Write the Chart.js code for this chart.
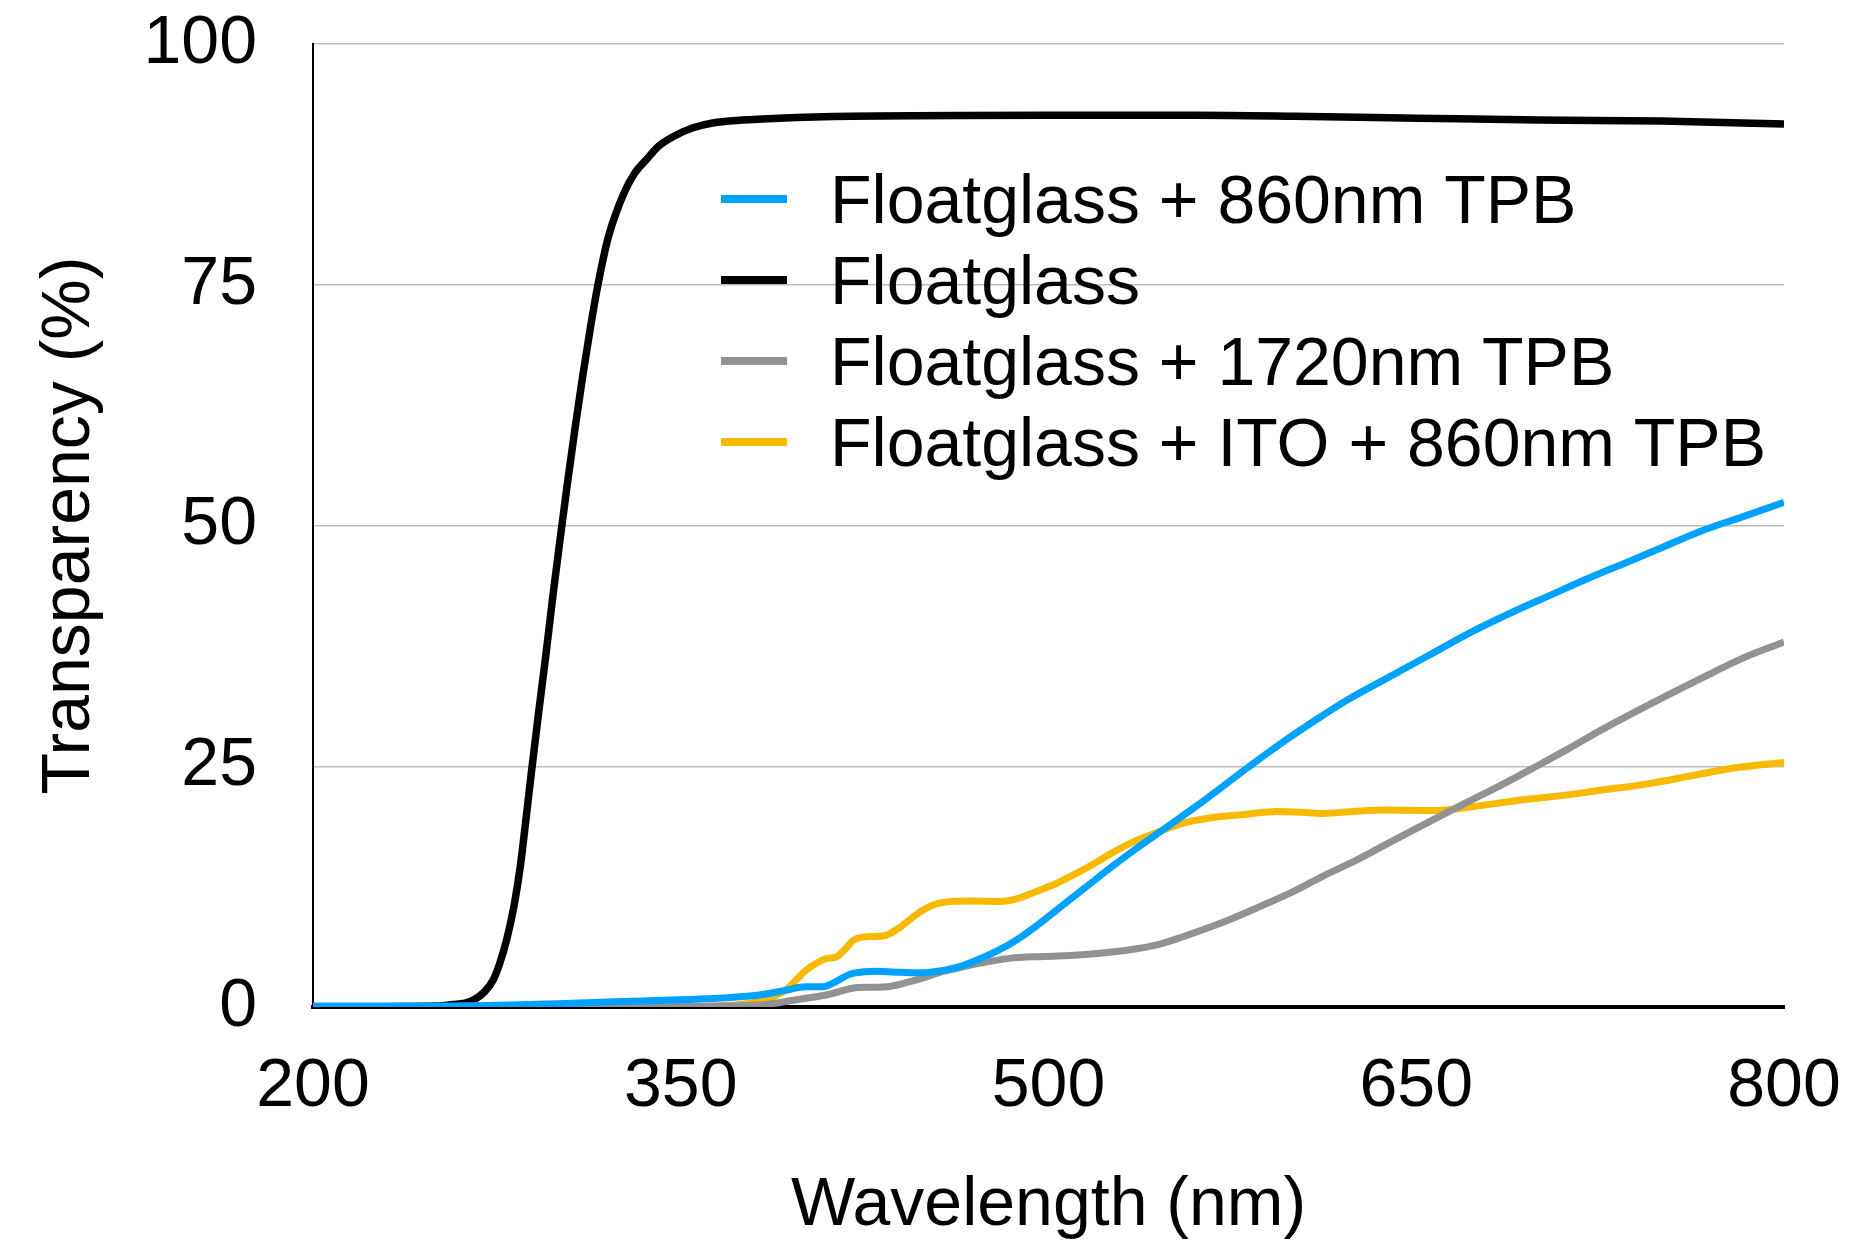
<!DOCTYPE html>
<html>
<head>
<meta charset="utf-8">
<title>Transparency vs Wavelength</title>
<script src="https://cdn.jsdelivr.net/npm/chart.js@4/dist/chart.umd.min.js"></script>
<style>
    html, body { margin: 0; padding: 0; background: #fff; }
    canvas { display: block; }
</style>
</head>
<body>
<canvas id="transChart" width="1854" height="1244"></canvas>
<script>
// Floatglass + 860nm TPB
const tpb860Nm = [200, 250, 280, 300, 330, 360, 382, 392, 401, 408, 413, 419, 425, 430, 440, 448, 458, 465, 471, 478, 486, 495, 505, 515, 525, 535, 545, 560, 582, 595, 609, 622, 637, 655, 673, 690, 705, 720, 738, 752, 766, 783, 800];
const tpb860T  = [0.1, 0.1, 0.2, 0.35, 0.6, 0.85, 1.25, 1.7, 2.1, 2.1, 2.6, 3.4, 3.65, 3.7, 3.6, 3.55, 3.85, 4.3, 4.9, 5.7, 6.8, 8.4, 10.4, 12.4, 14.4, 16.3, 18.1, 20.8, 25.0, 27.4, 29.8, 31.9, 34.0, 36.5, 39.0, 41.1, 42.8, 44.5, 46.4, 47.9, 49.4, 50.9, 52.4];

// Floatglass (bare)
const floatNm = [200, 250, 257, 262, 266, 270, 273.5, 276, 279, 282, 284.5, 287, 289, 292, 295, 298, 301, 304, 307, 310, 313, 316, 320, 323, 327, 331, 336, 341, 347, 355, 363, 375, 390, 420, 500, 560, 600, 650, 700, 750, 800];
const floatT  = [0, 0.1, 0.25, 0.4, 0.8, 1.6, 2.8, 4.4, 7.0, 10.5, 14.5, 19.8, 24.2, 30.5, 36.6, 43, 49, 54.8, 60.3, 65.5, 70.3, 74.7, 79.5, 82.0, 84.6, 86.5, 88.0, 89.4, 90.4, 91.3, 91.8, 92.1, 92.3, 92.5, 92.6, 92.6, 92.5, 92.3, 92.1, 92.0, 91.7];

// Floatglass + 1720nm TPB
const tpb1720Nm = [200, 300, 350, 382, 396, 411, 420, 427, 434, 443, 450, 457, 464, 471, 484, 498, 512, 532, 545, 556, 566, 576, 586, 600, 612, 626, 640, 655, 671, 685, 699, 712, 725, 745, 766, 783, 800];
const tpb1720T  = [0, 0, 0.05, 0.2, 0.7, 1.35, 1.95, 2.05, 2.1, 2.6, 3.1, 3.7, 4.1, 4.5, 5.05, 5.25, 5.4, 5.9, 6.5, 7.4, 8.3, 9.3, 10.4, 12.0, 13.6, 15.3, 17.2, 19.2, 21.3, 23.1, 25.0, 26.8, 28.7, 31.4, 34.1, 36.2, 37.9];

// Floatglass + ITO + 860nm TPB
const itoNm = [200, 300, 350, 375, 385, 393, 397, 401, 405, 409.5, 413.5, 417, 420.5, 426, 432.5, 439, 445, 450, 455, 460, 470, 480, 488, 495, 503, 510, 518, 526, 535, 545, 555, 565, 580, 593, 605, 612, 624, 637, 657, 673, 690, 711, 725, 745, 762, 779, 800];
const itoT  = [0, 0, 0.05, 0.3, 0.8, 1.8, 2.8, 3.8, 4.5, 5.05, 5.2, 6.0, 6.95, 7.3, 7.37, 8.2, 9.4, 10.25, 10.75, 10.95, 11.0, 10.95, 11.3, 12.0, 12.8, 13.7, 14.8, 16.0, 17.2, 18.2, 19.1, 19.6, 20.0, 20.3, 20.2, 20.1, 20.3, 20.45, 20.4, 20.8, 21.4, 22.0, 22.5, 23.2, 24.0, 24.8, 25.4];

const seriesLabels = ['Floatglass + 860nm TPB', 'Floatglass', 'Floatglass + 1720nm TPB', 'Floatglass + ITO + 860nm TPB'];
const seriesColors = ['#00a2ff', '#000000', '#929292', '#f8ba00'];

const xTicks = [200, 350, 500, 650, 800];
const yTicks = [0, 25, 50, 75, 100];

const fontFamily = "'Liberation Sans', Arial, Helvetica, sans-serif";

function toPoints(xs, ys) {
    return xs.map((x, i) => ({ x: x, y: ys[i] }));
}

function makeLine(idx, xs, ys, width) {
    return {
        label: seriesLabels[idx],
        data: toPoints(xs, ys),
        borderColor: seriesColors[idx],
        backgroundColor: seriesColors[idx],
        borderWidth: width,
        borderJoinStyle: 'round',
        pointRadius: 0,
        cubicInterpolationMode: 'monotone',
        fill: false
    };
}

// Legend drawn inside the plot area
const insideLegend = {
    id: 'insideLegend',
    afterDatasetsDraw(chart) {
        const ctx = chart.ctx;
        const area = chart.chartArea;
        const x0 = area.left + 408;
        const y0 = area.top + 155;
        const rowGap = 81;
        ctx.save();
        ctx.font = '68px ' + fontFamily;
        ctx.textBaseline = 'alphabetic';
        ctx.textAlign = 'left';
        chart.data.datasets.forEach((ds, i) => {
            const cy = y0 + i * rowGap;
            ctx.fillStyle = ds.borderColor;
            ctx.fillRect(x0, cy - 4, 66, 8);
            ctx.fillStyle = '#000';
            ctx.fillText(ds.label, x0 + 109, cy + 24);
        });
        ctx.restore();
    }
};

const chart = new Chart(document.getElementById('transChart'), {
    type: 'line',
    data: {
        datasets: [
            makeLine(0, tpb860Nm, tpb860T, 7),
            makeLine(1, floatNm, floatT, 7.5),
            makeLine(2, tpb1720Nm, tpb1720T, 7),
            makeLine(3, itoNm, itoT, 7)
        ]
    },
    options: {
        responsive: false,
        animation: false,
        layout: {
            padding: 0
        },
        plugins: {
            legend: { display: false },
            tooltip: { enabled: false }
        },
        scales: {
            x: {
                type: 'linear',
                min: 200,
                max: 800,
                afterBuildTicks: axis => { axis.ticks = xTicks.map(v => ({ value: v })); },
                afterFit: axis => {
                    axis.height = 237;
                    axis.paddingLeft = 0;
                    axis.paddingRight = 70;
                },
                ticks: {
                    color: '#000',
                    padding: 39,
                    font: { family: fontFamily, size: 68 },
                    maxRotation: 0
                },
                grid: { display: false, drawTicks: false },
                border: { display: true, color: '#000', width: 4 },
                title: {
                    display: true,
                    text: 'Wavelength (nm)',
                    color: '#000',
                    font: { family: fontFamily, size: 68, lineHeight: 1.1 },
                    padding: { top: 0, bottom: 0 }
                }
            },
            y: {
                type: 'linear',
                min: 0,
                max: 100,
                afterBuildTicks: axis => { axis.ticks = yTicks.map(v => ({ value: v })); },
                afterFit: axis => {
                    axis.width = 313;
                    axis.paddingTop = 44;
                    axis.paddingBottom = 0;
                },
                ticks: {
                    color: '#000',
                    padding: 56,
                    font: { family: fontFamily, size: 68 }
                },
                grid: { color: '#bdbdbd', lineWidth: 1.5, drawTicks: false },
                border: { display: true, color: '#000', width: 2 },
                title: {
                    display: true,
                    text: 'Transparency (%)',
                    color: '#000',
                    font: { family: fontFamily, size: 68 },
                    padding: { top: 29, bottom: 0 }
                }
            }
        }
    },
    plugins: [insideLegend]
});
</script>
</body>
</html>
